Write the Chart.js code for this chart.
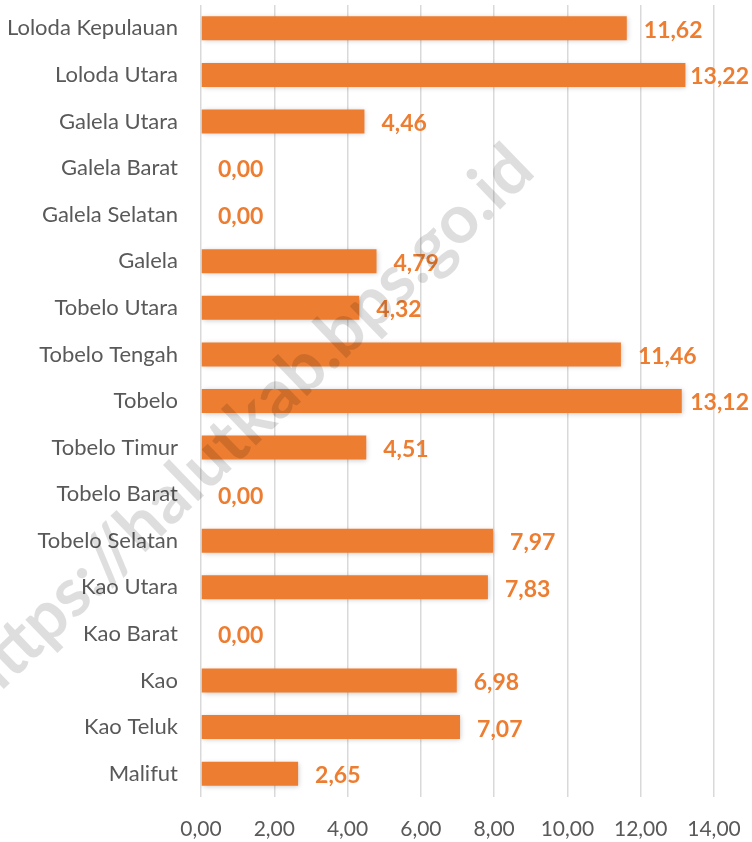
<!DOCTYPE html>
<html><head><meta charset="utf-8">
<script src="https://cdn.jsdelivr.net/npm/chart.js@4"></script>
<style>html,body{margin:0;padding:0;background:#fff}#wrap{width:752px;height:842px}</style>
</head><body><div id="wrap"><canvas id="c" width="752" height="842"></canvas></div>
<script>
const categories = ["Loloda Kepulauan","Loloda Utara","Galela Utara","Galela Barat","Galela Selatan","Galela","Tobelo Utara","Tobelo Tengah","Tobelo","Tobelo Timur","Tobelo Barat","Tobelo Selatan","Kao Utara","Kao Barat","Kao","Kao Teluk","Malifut"];
const values = [11.62,13.22,4.46,0.00,0.00,4.79,4.32,11.46,13.12,4.51,0.00,7.97,7.83,0.00,6.98,7.07,2.65];
const xTicks = [0,2,4,6,8,10,12,14];
const watermark = "https://halutkab.bps.go.id";

const FONT = "Lato, 'Open Sans', sans-serif";
const ORANGE = "#ED7D31";
const fmt = v => v.toFixed(2).replace('.', ',');

const shadowPlugin = {
  id: 'shadow',
  beforeDatasetsDraw(chart) {
    const ctx = chart.ctx; ctx.save();
    ctx.shadowColor = 'rgba(0,0,0,0.22)'; ctx.shadowBlur = 5; ctx.shadowOffsetX = 1; ctx.shadowOffsetY = 1;
  },
  afterDatasetsDraw(chart) { chart.ctx.restore(); }
};

const labelPlugin = {
  id: 'vlabels',
  afterDatasetsDraw(chart) {
    const ctx = chart.ctx; const meta = chart.getDatasetMeta(0);
    ctx.save();
    ctx.font = "bold 23px " + FONT; ctx.fillStyle = ORANGE;
    ctx.textBaseline = 'middle'; ctx.textAlign = 'left';
    meta.data.forEach((bar, i) => {
      const t = fmt(values[i]);
      const w = ctx.measureText(t).width;
      let x = bar.x + 17;
      if (x + w > chart.width - 3) x = Math.max(bar.x + 3, chart.width - 3 - w);
      ctx.fillText(t, x, bar.y + 2);
    });
    ctx.restore();
  }
};

const wmPlugin = {
  id: 'wm',
  afterDraw(chart) {
    const ctx = chart.ctx; ctx.save();
    ctx.font = "bold 68px " + FONT;
    const W = ctx.measureText(watermark).width;
    const a = 44 * Math.PI / 180;
    const ex = 522, ey = 158;
    ctx.translate(ex - W * Math.cos(a), ey + W * Math.sin(a));
    ctx.rotate(-a);
    ctx.fillStyle = 'rgba(0,0,0,0.13)';
    ctx.textBaseline = 'middle';
    ctx.fillText(watermark, 0, 0);
    ctx.restore();
  }
};

new Chart(document.getElementById('c'), {
  type: 'bar',
  data: { labels: categories, datasets: [{ data: values, backgroundColor: ORANGE, barPercentage: 1, categoryPercentage: 0.515 }] },
  options: {
    indexAxis: 'y', responsive: false, animation: false,
    layout: { padding: { top: 5, right: 38, left: 0, bottom: 0 } },
    plugins: { legend: { display: false }, tooltip: { enabled: false } },
    scales: {
      x: {
        min: 0, max: 14,
        afterBuildTicks(axis) { axis.ticks = xTicks.map(v => ({ value: v })); },
        afterFit(axis) { axis.height = 45; axis.paddingLeft = 0; axis.paddingRight = 0; axis.paddingTop = 0; axis.paddingBottom = 0; },
        grid: { color: '#D9D9D9', lineWidth: 1.5, drawTicks: false },
        border: { display: false },
        ticks: { padding: 20, color: '#595959', font: { family: FONT, size: 21 }, callback: v => fmt(v) }
      },
      y: {
        afterFit(axis) { axis.width = 201; axis.paddingLeft = 0; axis.paddingRight = 0; axis.paddingTop = 0; axis.paddingBottom = 0; },
        grid: { display: false, drawTicks: false },
        border: { display: false },
        ticks: { padding: 23, color: '#595959', font: { family: FONT, size: 22 } }
      }
    }
  },
  plugins: [shadowPlugin, labelPlugin, wmPlugin]
});
</script></body></html>
